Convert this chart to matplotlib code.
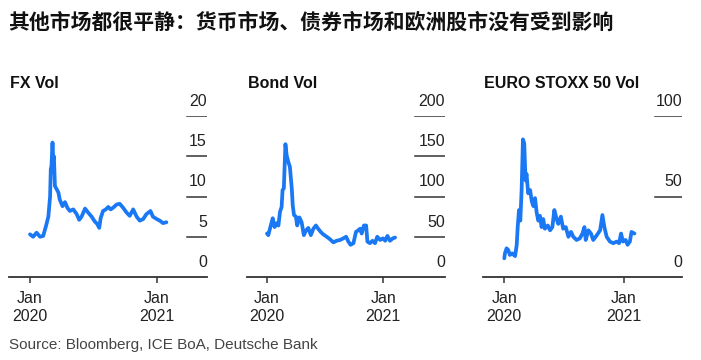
import matplotlib
matplotlib.use("Agg")
import matplotlib.pyplot as plt
import pandas as pd

plt.rcParams['font.family'] = ['Liberation Sans', 'DejaVu Sans']

# ---------------- data ----------------
title = "其他市场都很平静：货币市场、债券市场和欧洲股市没有受到影响"
source = "Source: Bloomberg, ICE BoA, Deutsche Bank"
panel_titles = ["FX Vol", "Bond Vol", "EURO STOXX 50 Vol"]

# days since 2020-01-01
fx_days = [0, 9, 19, 29, 38, 46, 53, 58, 60, 62, 65, 67, 69, 72, 77, 82, 86, 94,
           101, 108, 115, 125, 135, 142, 149, 159, 168, 178, 187, 194, 200, 204,
           211, 219, 226, 233, 240, 250, 259, 269, 279, 288, 298, 308, 317, 327,
           336, 348, 355, 366, 375, 384, 394]
fx_vals = [5.3, 5.0, 5.5, 5.0, 5.1, 6.3, 7.5, 10.0, 13.4, 13.8, 16.7, 14.6, 15.0,
           11.3, 10.9, 10.5, 9.6, 8.8, 9.3, 8.6, 8.2, 8.4, 7.8, 7.1, 7.5, 8.5, 8.0,
           7.5, 6.9, 6.6, 6.1, 7.3, 8.2, 8.4, 8.7, 8.4, 8.6, 9.0, 9.1, 8.6, 8.0, 7.6,
           8.4, 7.5, 7.0, 7.2, 7.8, 8.2, 7.5, 7.2, 7.0, 6.7, 6.8]

bond_days = [0, 4, 12, 18, 24, 31, 36, 41, 46, 49, 53, 58, 62, 67, 72, 78, 81, 85,
             91, 95, 102, 109, 116, 123, 130, 138, 146, 154, 161, 169, 177, 188,
             198, 209, 219, 230, 240, 249, 256, 263, 272, 280, 287, 293, 298, 305,
             312, 316, 324, 332, 340, 347, 356, 365, 372, 379, 387, 396, 403]
bond_vals = [54, 52, 64, 73, 62, 67, 64, 81, 87, 108, 110, 165, 151, 143, 137, 110,
             89, 77, 75, 64, 74, 68, 52, 58, 61, 52, 60, 64, 60, 56, 53, 50, 47, 43,
             45, 46, 48, 50, 44, 40, 42, 56, 58, 60, 54, 64, 64, 44, 42, 45, 42, 50,
             46, 48, 45, 51, 45, 48, 49]

euro_days = [0, 2, 7, 12, 17, 24, 33, 38, 41, 45, 49, 53, 57, 61, 65, 68, 73, 79,
             84, 89, 94, 99, 104, 109, 114, 119, 124, 133, 140, 147, 153, 160, 165,
             173, 180, 188, 196, 204, 211, 221, 231, 239, 245, 249, 257, 265, 272,
             283, 293, 300, 306, 313, 323, 333, 344, 351, 357, 363, 371, 377, 384,
             389, 398]
euro_vals = [11.6, 14.7, 17.8, 16.8, 13.7, 14.7, 13.0, 19.9, 31, 41.6, 35, 54, 85.5,
             83, 60, 64, 52, 54, 47, 44, 49, 40, 35, 38, 31, 36, 30, 32, 29, 31, 41.6,
             36, 33, 37.5, 30, 31, 25, 28, 25, 23, 24, 27, 31, 23, 29, 27, 23, 26, 29,
             38.5, 31, 25, 22, 21, 22, 21, 27, 22, 23, 20, 22, 28, 27]

y_ticks = [[0, 5, 10, 15, 20], [0, 50, 100, 150, 200], [0, 50, 100]]
x_tick_dates = ["2020-01-01", "2021-01-01"]
x_tick_labels = ["Jan\n2020", "Jan\n2021"]

# ---------------- layout ----------------
W, H = 701, 360
fig = plt.figure(figsize=(W / 100, H / 100), dpi=100)
fig.patch.set_facecolor("white")

base = pd.Timestamp("2020-01-01")
panels = [
    dict(days=fx_days, vals=fx_vals, left=9, right=207, xl=(-60.7, 511.3), grid_x0=187),
    dict(days=bond_days, vals=bond_vals, left=247, right=445, xl=(-62.9, 560.2), grid_x0=415),
    dict(days=euro_days, vals=euro_vals, left=483, right=682, xl=(-65.1, 543.4), grid_x0=655),
]
bottom_px, top_px = 277, 116
blue = "#1a78f4"
dark = "#333333"

for i, p in enumerate(panels):
    ax = fig.add_axes([p["left"] / W, (H - bottom_px) / H,
                       (p["right"] - p["left"]) / W, (bottom_px - top_px) / H])
    dates = base + pd.to_timedelta(p["days"], unit="D")
    ax.plot(dates, p["vals"], color=blue, lw=2.7, solid_joinstyle="round",
            solid_capstyle="round")
    ax.set_xlim(base + pd.Timedelta(days=p["xl"][0]), base + pd.Timedelta(days=p["xl"][1]))
    yt = y_ticks[i]
    ax.set_ylim(0, yt[-1])
    for s in ["top", "right", "left"]:
        ax.spines[s].set_visible(False)
    ax.spines["bottom"].set_color(dark)
    ax.spines["bottom"].set_linewidth(1.3)
    ax.set_yticks([])
    ax.set_xticks(pd.to_datetime(x_tick_dates))
    ax.set_xticklabels(x_tick_labels, fontsize=11.5, color="#222222", linespacing=1.25)
    ax.tick_params(axis="x", direction="out", length=4, width=1.1, color=dark, pad=6)
    xmin = (p["grid_x0"] - p["left"]) / (p["right"] - p["left"])
    for v in yt:
        if v != 0:
            ax.axhline(v, xmin=xmin, xmax=1, color=dark, lw=1.1)
        ax.annotate(str(v), xy=(1, v), xycoords=("axes fraction", "data"),
                    xytext=(0, 7.3), textcoords="offset points",
                    ha="right", va="baseline", fontsize=11.5, color="#222222")
    ax.patch.set_alpha(0)
    fig.text((p["left"] + 1) / W, 1 - 83 / H, panel_titles[i], fontsize=11.5,
             fontweight="bold", color="#111111", ha="left", va="center")

fig.text(8 / W, 1 - 22 / H, title, fontsize=15, fontweight="bold",
         family=["Noto Sans CJK SC", "DejaVu Sans"], color="#111111",
         ha="left", va="center")
fig.text(9 / W, 1 - 345 / H, source, fontsize=11, color="#444444",
         ha="left", va="center")

fig.savefig("out.png", dpi=100, facecolor="white")
